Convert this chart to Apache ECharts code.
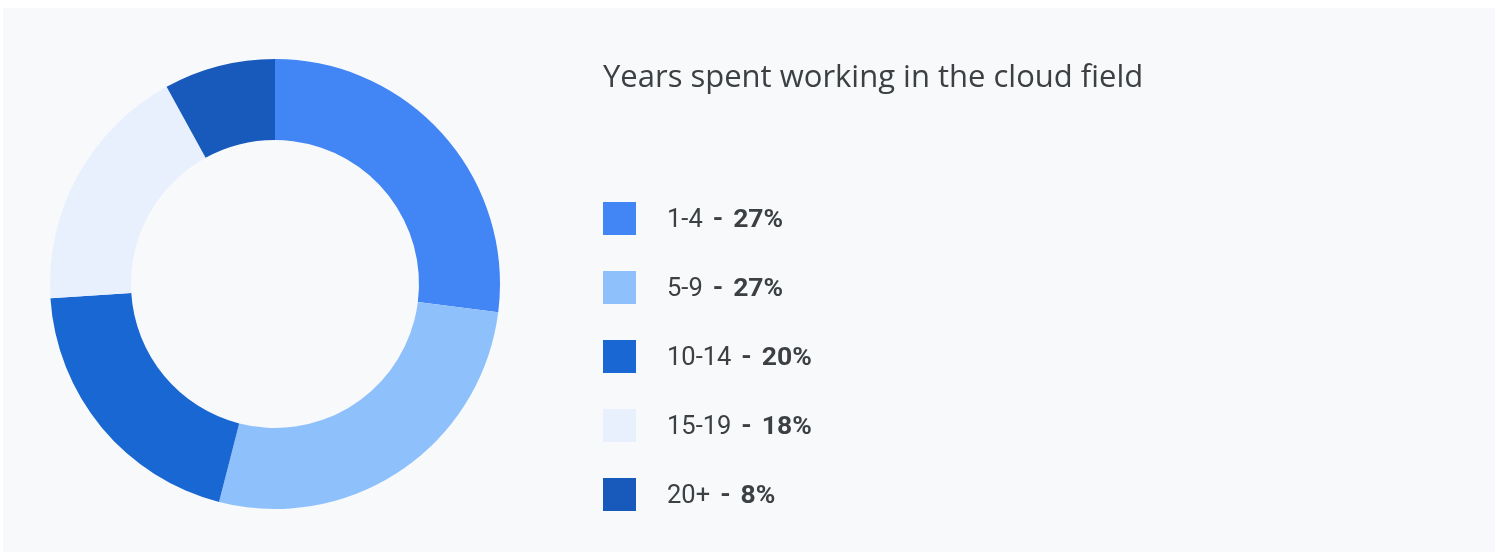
<!DOCTYPE html>
<html>
<head>
<meta charset="utf-8">
<script src="https://cdn.jsdelivr.net/npm/echarts@6/dist/echarts.min.js"></script>
<style>
html, body { margin: 0; padding: 0; background: #fff; }
#main { width: 1495px; height: 552px; }
</style>
</head>
<body>
<div id="main"></div>
<script>
var titleText = 'Years spent working in the cloud field';
var categories = ['1-4', '5-9', '10-14', '15-19', '20+'];
var shares = [27, 27, 20, 18, 8];
var colors = ['#4285f4', '#8ec1fc', '#1967d2', '#e8f0fe', '#185abc'];

var myChart = echarts.init(document.getElementById('main'));

var pieData = categories.map(function (c, i) {
    return { name: c, value: shares[i], itemStyle: { color: colors[i] } };
});

var option = {
    backgroundColor: '#fff',
    animation: false,
    graphic: [{
        type: 'rect',
        z: -10,
        shape: { x: 3, y: 8, width: 1492, height: 544 },
        style: { fill: '#f8f9fa' }
    }],
    title: {
        text: titleText,
        left: 603,
        top: 63,
        padding: 0,
        textStyle: {
            fontFamily: 'Open Sans',
            fontSize: 31,
            fontWeight: 'normal',
            color: '#3c4043'
        }
    },
    legend: {
        orient: 'vertical',
        left: 603,
        top: 202,
        padding: 0,
        icon: 'rect',
        itemWidth: 33,
        itemHeight: 33,
        itemGap: 36,
        selectedMode: false,
        data: categories,
        formatter: function (name) {
            var i = categories.indexOf(name);
            return name + '{g|}{b|-}{g|}{b|' + shares[i] + '%}';
        },
        textStyle: {
            fontFamily: 'Roboto',
            fontSize: 25.5,
            color: '#3c4043',
            padding: [4, 0, 0, 26],
            rich: {
                g: { width: 10 },
                b: {
                    fontFamily: 'Roboto',
                    fontSize: 26.5,
                    fontWeight: 'bold',
                    color: '#3c4043'
                }
            }
        }
    },
    series: [{
        type: 'pie',
        center: [275, 284],
        radius: [144, 225],
        startAngle: 90,
        clockwise: true,
        label: { show: false },
        labelLine: { show: false },
        emphasis: { disabled: true },
        data: pieData
    }]
};

myChart.setOption(option);
</script>
</body>
</html>
